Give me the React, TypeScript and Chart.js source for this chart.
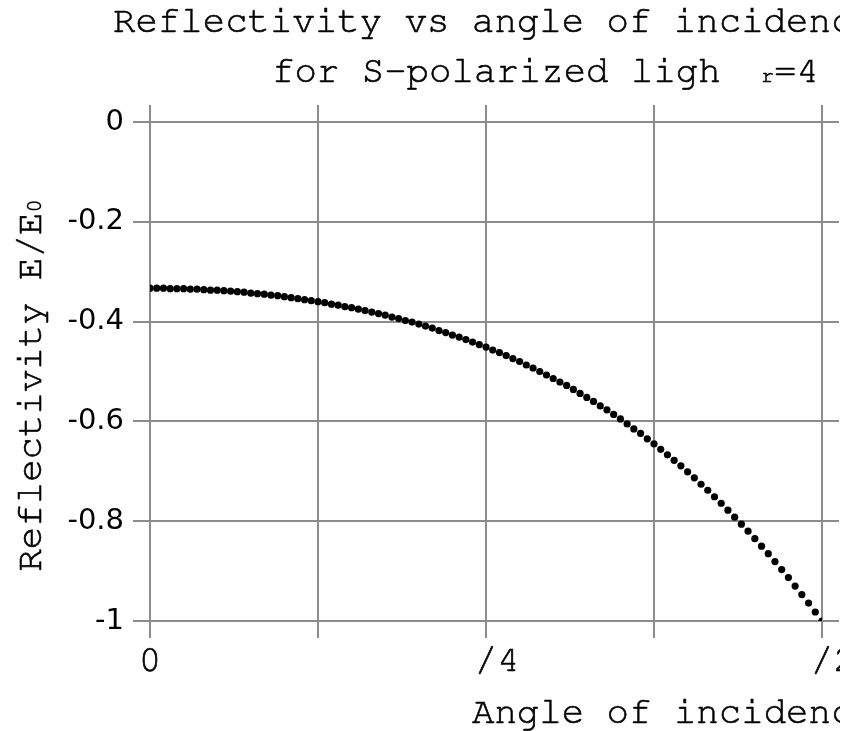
import React, { useEffect, useRef } from "react";
import { Chart, registerables } from "chart.js";

Chart.register(...registerables);

// angle of incidence (degrees, 0 .. 90 = pi/2)
const angleDeg = [
  0, 0.9, 1.8, 2.7, 3.6, 4.5, 5.4, 6.3, 7.2, 8.1,
  9, 9.9, 10.8, 11.7, 12.6, 13.5, 14.4, 15.3, 16.2, 17.1,
  18, 18.9, 19.8, 20.7, 21.6, 22.5, 23.4, 24.3, 25.2, 26.1,
  27, 27.9, 28.8, 29.7, 30.6, 31.5, 32.4, 33.3, 34.2, 35.1,
  36, 36.9, 37.8, 38.7, 39.6, 40.5, 41.4, 42.3, 43.2, 44.1,
  45, 45.9, 46.8, 47.7, 48.6, 49.5, 50.4, 51.3, 52.2, 53.1,
  54, 54.9, 55.8, 56.7, 57.6, 58.5, 59.4, 60.3, 61.2, 62.1,
  63, 63.9, 64.8, 65.7, 66.6, 67.5, 68.4, 69.3, 70.2, 71.1,
  72, 72.9, 73.8, 74.7, 75.6, 76.5, 77.4, 78.3, 79.2, 80.1,
  81, 81.9, 82.8, 83.7, 84.6, 85.5, 86.4, 87.3, 88.2, 89.1,
  90,
];

// reflectivity Er/E0
const reflectivity = [
  -0.333, -0.333, -0.333, -0.334, -0.334, -0.334, -0.335, -0.335, -0.336, -0.337,
  -0.337, -0.338, -0.339, -0.34, -0.341, -0.343, -0.344, -0.345, -0.347, -0.348,
  -0.35, -0.352, -0.354, -0.356, -0.358, -0.36, -0.362, -0.365, -0.367, -0.37,
  -0.372, -0.375, -0.378, -0.381, -0.384, -0.387, -0.391, -0.394, -0.398, -0.401,
  -0.405, -0.409, -0.413, -0.418, -0.422, -0.427, -0.431, -0.436, -0.441, -0.446,
  -0.451, -0.457, -0.462, -0.468, -0.474, -0.48, -0.487, -0.493, -0.5, -0.507,
  -0.514, -0.521, -0.528, -0.536, -0.544, -0.552, -0.56, -0.569, -0.577, -0.586,
  -0.595, -0.605, -0.615, -0.624, -0.635, -0.645, -0.656, -0.667, -0.678, -0.689,
  -0.701, -0.713, -0.726, -0.738, -0.751, -0.764, -0.778, -0.792, -0.806, -0.82,
  -0.835, -0.85, -0.865, -0.881, -0.897, -0.913, -0.93, -0.947, -0.964, -0.982,
  -1.0,
];

const xTickValues = [0, 22.5, 45, 67.5, 90];
const xTickLabels = ["0", "", " /4", "", " /2"];
const yTickValues = [0, -0.2, -0.4, -0.6, -0.8, -1];
const yTickLabels = ["0", "-0.2", "-0.4", "-0.6", "-0.8", "-1"];

const titleLine1 = "Reflectivity vs angle of incidence";
const titleLine2 = "for S-polarized ligh";
const titleSub = "r";
const titleTail = "=4";
const xTitle = "Angle of incidence";
const yTitleMain = "Reflectivity E";
const yTitleMid = "/E";
const yTitleSub = "0";

const MONO = '"Nimbus Mono PS", "Nimbus Mono L", "FreeMono", "Liberation Mono", monospace';
const SANS = '"DejaVu Sans", "Liberation Sans", sans-serif';
const BIG = 37.4;
const SMALL = 22;
const GRID = "#8c8c8c";

function txt(ctx: any, s: string, x: number, y: number) {
  ctx.fillText(s, x, y);
  ctx.strokeText(s, x, y);
}

const textPlugin = {
  id: "customTexts",
  afterDraw(chart: any) {
    const { ctx, chartArea } = chart;
    const L = chartArea.left;
    const T = chartArea.top;
    const B = chartArea.bottom;
    ctx.save();
    ctx.fillStyle = "#000";
    ctx.strokeStyle = "#000";
    ctx.lineWidth = 0.6;
    ctx.textAlign = "left";
    ctx.textBaseline = "alphabetic";
    ctx.font = `${BIG}px ${MONO}`;
    txt(ctx, titleLine1, L - 37, T - 90);
    txt(ctx, titleLine2, L + 122, T - 40);
    ctx.font = `${SMALL}px ${MONO}`;
    txt(ctx, titleSub, L + 611, T - 40);
    ctx.font = `${BIG}px ${MONO}`;
    txt(ctx, titleTail, L + 624, T - 40);
    txt(ctx, xTitle, L + 322, B + 102);

    // y title (rotated)
    ctx.font = `${BIG}px ${MONO}`;
    const w1 = ctx.measureText(yTitleMain).width;
    const w2 = ctx.measureText(yTitleMid).width;
    ctx.font = `${SMALL}px ${MONO}`;
    const w3 = ctx.measureText(yTitleSub).width;
    const total = w1 + w2 + w3;
    const cy = (T + B) / 2 + 14;
    ctx.translate(41, cy + total / 2);
    ctx.rotate(-Math.PI / 2);
    ctx.font = `${BIG}px ${MONO}`;
    txt(ctx, yTitleMain, 0, 0);
    txt(ctx, yTitleMid, w1, 0);
    ctx.font = `${SMALL}px ${MONO}`;
    txt(ctx, yTitleSub, w1 + w2, 0);
    ctx.restore();
  },
};

function gridOpts(onArea: boolean) {
  return {
    display: true,
    drawOnChartArea: onArea,
    drawTicks: true,
    tickLength: 17,
    color: GRID,
    lineWidth: 2,
  };
}

export default function App() {
  const ref = useRef<HTMLCanvasElement | null>(null);

  useEffect(() => {
    if (!ref.current) return;
    const points = angleDeg.map((a, i) => ({ x: a, y: reflectivity[i] }));
    const setX = (s: any) => {
      s.ticks = xTickValues.map((v) => ({ value: v }));
    };
    const setY = (s: any) => {
      s.ticks = yTickValues.map((v) => ({ value: v }));
    };
    const chart = new Chart(ref.current, {
      type: "scatter",
      data: {
        datasets: [
          {
            data: points,
            pointRadius: 3.6,
            pointBackgroundColor: "#000",
            pointBorderWidth: 0,
            pointBorderColor: "#000",
            showLine: false,
          },
        ],
      },
      options: {
        animation: false,
        responsive: false,
        layout: { padding: 0 },
        plugins: {
          legend: { display: false },
          title: { display: false },
          tooltip: { enabled: false },
        },
        scales: {
          x: {
            type: "linear",
            position: "bottom",
            min: 0,
            max: 90,
            afterBuildTicks: setX,
            afterFit: (s: any) => {
              s.height = 110;
            },
            grid: gridOpts(true),
            border: { display: false },
            ticks: {
              autoSkip: false,
              maxRotation: 0,
              padding: -1,
              color: "#000",
              textStrokeColor: "#000",
              textStrokeWidth: 0.6,
              font: { family: MONO, size: BIG, lineHeight: 1.2 },
              callback: (v: any) => xTickLabels[xTickValues.indexOf(v)] ?? "",
            },
          },
          x2: {
            type: "linear",
            position: "top",
            min: 0,
            max: 90,
            afterBuildTicks: setX,
            afterFit: (s: any) => {
              s.height = 122;
            },
            grid: gridOpts(false),
            border: { display: false },
            ticks: { display: false },
          },
          y: {
            type: "linear",
            position: "left",
            min: -1,
            max: 0,
            afterBuildTicks: setY,
            afterFit: (s: any) => {
              s.width = 150;
            },
            grid: gridOpts(true),
            border: { display: false },
            ticks: {
              padding: 9,
              color: "#000",
              font: { family: SANS, size: 29 },
              callback: (v: any) => yTickLabels[yTickValues.indexOf(v)] ?? "",
            },
          },
          y2: {
            type: "linear",
            position: "right",
            min: -1,
            max: 0,
            afterBuildTicks: setY,
            afterFit: (s: any) => {
              s.width = 78;
            },
            grid: gridOpts(false),
            border: { display: false },
            ticks: { display: false },
          },
        },
      },
      plugins: [textPlugin],
    } as any);
    return () => chart.destroy();
  }, []);

  return (
    <div
      style={{
        position: "fixed",
        left: 0,
        top: 0,
        width: 840,
        height: 731,
        overflow: "hidden",
        background: "#fff",
      }}
    >
      <canvas ref={ref} width={900} height={731} style={{ display: "block" }} />
    </div>
  );
}
